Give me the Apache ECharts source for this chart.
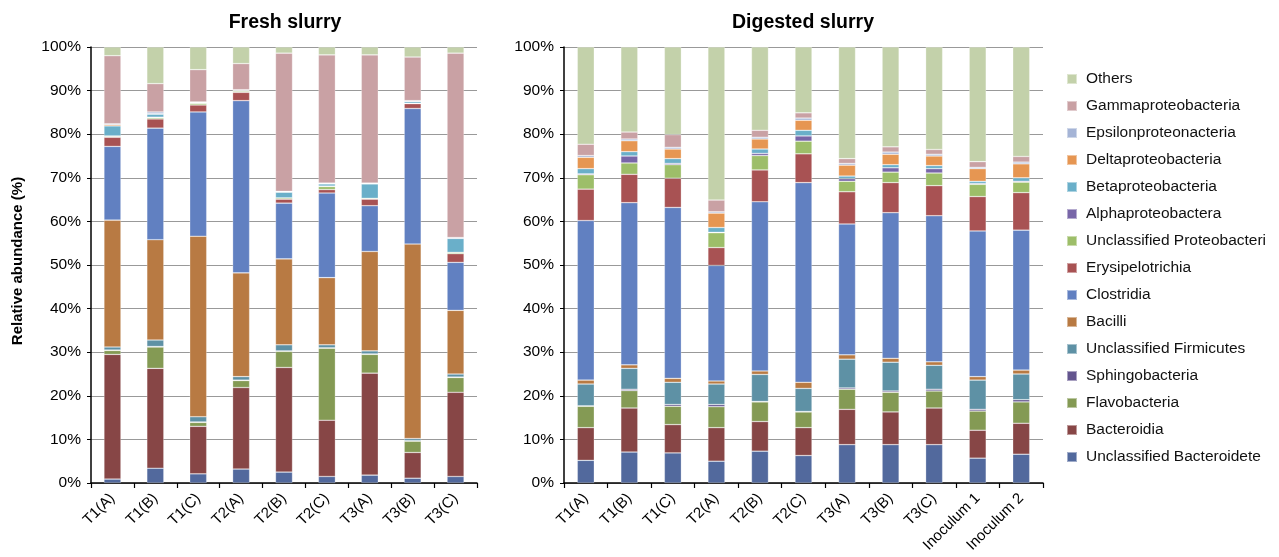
<!DOCTYPE html>
<html>
<head>
<meta charset="utf-8">
<script src="https://cdn.jsdelivr.net/npm/echarts@6/dist/echarts.min.js"></script>
<style>
  html, body { margin: 0; padding: 0; background: #fff; }
  #chart { width: 1279px; height: 557px; }
</style>
</head>
<body>
<div id="chart"></div>
<script>
// Sample names
const freshSamples = ['T1(A)', 'T1(B)', 'T1(C)', 'T2(A)', 'T2(B)', 'T2(C)', 'T3(A)', 'T3(B)', 'T3(C)'];
const digestedSamples = ['T1(A)', 'T1(B)', 'T1(C)', 'T2(A)', 'T2(B)', 'T2(C)', 'T3(A)', 'T3(B)', 'T3(C)', 'Inoculum 1', 'Inoculum 2'];

// Taxa, bottom of the stack first
const taxa = ['Unclassified Bacteroidete', 'Bacteroidia', 'Flavobacteria', 'Sphingobacteria',
  'Unclassified Firmicutes', 'Bacilli', 'Clostridia', 'Erysipelotrichia', 'Unclassified Proteobacteri',
  'Alphaproteobactera', 'Betaproteobacteria', 'Deltaproteobacteria', 'Epsilonproteonacteria',
  'Gammaproteobacteria', 'Others'];

// Fresh slurry, relative abundance (%)
const freshUnclBacteroidete = [0.9, 3.4, 2.1, 3.2, 2.5, 1.5, 1.8, 1.1, 1.5];
const freshBacteroidia      = [28.6, 22.9, 10.9, 18.7, 24.0, 12.9, 23.4, 5.9, 19.3];
const freshFlavobacteria    = [0.9, 4.9, 0.9, 1.6, 3.7, 16.5, 4.3, 2.6, 3.4];
const freshSphingobacteria  = [0.1, 0.1, 0.1, 0.1, 0.1, 0.1, 0.1, 0.1, 0.1];
const freshUnclFirmicutes   = [0.7, 1.5, 1.2, 0.8, 1.4, 0.7, 0.7, 0.5, 0.7];
const freshBacilli          = [29.1, 23.0, 41.4, 23.8, 19.7, 15.4, 22.8, 44.6, 14.6];
const freshClostridia       = [16.9, 25.6, 28.5, 39.5, 12.8, 19.4, 10.5, 31.1, 11.0];
const freshErysipelotrichia = [2.1, 2.1, 1.6, 1.9, 0.9, 0.8, 1.5, 1.1, 2.0];
const freshUnclProteo       = [0.2, 0.3, 0.4, 0.3, 0.3, 0.7, 0.2, 0.1, 0.3];
const freshAlpha            = [0.1, 0.1, 0.0, 0.0, 0.0, 0.1, 0.0, 0.0, 0.0];
const freshBeta             = [2.3, 0.7, 0.1, 0.1, 1.3, 0.5, 3.3, 0.4, 3.2];
const freshDelta            = [0.3, 0.1, 0.1, 0.1, 0.1, 0.1, 0.1, 0.1, 0.1];
const freshEpsilon          = [0.2, 0.4, 0.1, 0.1, 0.1, 0.1, 0.1, 0.1, 0.1];
const freshGamma            = [15.6, 6.5, 7.4, 6.0, 31.7, 29.4, 29.4, 10.0, 42.3];
const freshOthers           = [2.0, 8.4, 5.2, 3.8, 1.4, 1.8, 1.8, 2.3, 1.4];

// Digested slurry, relative abundance (%)
const digUnclBacteroidete = [5.2, 7.1, 6.9, 5.0, 7.3, 6.3, 8.8, 8.8, 8.8, 5.7, 6.6];
const digBacteroidia      = [7.5, 10.1, 6.5, 7.7, 6.8, 6.4, 8.1, 7.5, 8.4, 6.4, 7.1];
const digFlavobacteria    = [4.9, 4.0, 4.2, 4.8, 4.5, 3.6, 4.6, 4.5, 3.9, 4.4, 4.9];
const digSphingobacteria  = [0.1, 0.3, 0.4, 0.5, 0.1, 0.1, 0.3, 0.3, 0.4, 0.4, 0.5];
const digUnclFirmicutes   = [5.0, 4.8, 5.1, 4.7, 6.2, 5.3, 6.6, 6.6, 5.5, 6.7, 5.9];
const digBacilli          = [0.9, 0.8, 0.9, 0.7, 0.8, 1.4, 1.0, 0.9, 0.8, 0.8, 0.9];
const digClostridia       = [36.6, 37.2, 39.2, 26.5, 38.8, 45.8, 30.0, 33.4, 33.5, 33.4, 32.1];
const digErysipelotrichia = [7.2, 6.5, 6.7, 4.1, 7.3, 6.6, 7.4, 6.9, 6.9, 7.9, 8.6];
const digUnclProteo       = [3.3, 2.6, 3.1, 3.4, 3.3, 2.9, 2.4, 2.4, 2.9, 2.8, 2.4];
const digAlpha            = [0.2, 1.6, 0.3, 0.1, 0.5, 1.2, 0.6, 1.0, 1.0, 0.2, 0.2];
const digBeta             = [1.2, 1.0, 1.1, 1.1, 1.0, 1.3, 0.6, 0.7, 0.7, 0.5, 0.8];
const digDelta            = [2.6, 2.5, 2.2, 3.3, 2.3, 2.3, 2.5, 2.4, 2.2, 2.9, 3.2];
const digEpsilon          = [0.4, 0.4, 0.4, 0.3, 0.4, 0.5, 0.4, 0.5, 0.4, 0.3, 0.4];
const digGamma            = [2.6, 1.6, 2.9, 2.7, 1.6, 1.2, 1.1, 1.2, 1.1, 1.3, 1.3];
const digOthers           = [22.3, 19.5, 20.1, 35.1, 19.1, 15.1, 25.6, 22.9, 23.5, 26.3, 25.1];

// Y-axis ticks
const yTicks = [0, 10, 20, 30, 40, 50, 60, 70, 80, 90, 100];

const freshSeries = [freshUnclBacteroidete, freshBacteroidia, freshFlavobacteria, freshSphingobacteria,
  freshUnclFirmicutes, freshBacilli, freshClostridia, freshErysipelotrichia, freshUnclProteo,
  freshAlpha, freshBeta, freshDelta, freshEpsilon, freshGamma, freshOthers];
const digSeries = [digUnclBacteroidete, digBacteroidia, digFlavobacteria, digSphingobacteria,
  digUnclFirmicutes, digBacilli, digClostridia, digErysipelotrichia, digUnclProteo,
  digAlpha, digBeta, digDelta, digEpsilon, digGamma, digOthers];

const colors = ['#52699d', '#874646', '#849a54', '#63558e', '#5e91a5', '#b87a43', '#6180c1',
  '#a85253', '#9dbe69', '#7866a8', '#6aafc9', '#e69652', '#a5b4d6', '#c9a1a4', '#c3d1aa'];

const FONT = 'Liberation Sans, Arial, Helvetica, sans-serif';

function xAxisFor(gridIndex, cats) {
  return {
    type: 'category', gridIndex: gridIndex, data: cats,
    axisLine: { lineStyle: { color: '#000', width: 1.5 } },
    axisTick: { show: true, length: 5, lineStyle: { color: '#000', width: 1.2 } },
    axisLabel: { interval: 0, rotate: 45, fontSize: 15, color: '#000', fontFamily: FONT, margin: 13 }
  };
}
function yAxisFor(gridIndex) {
  return {
    type: 'value', gridIndex: gridIndex, min: yTicks[0], max: yTicks[yTicks.length - 1], interval: yTicks[1] - yTicks[0],
    axisLine: { show: true, lineStyle: { color: '#000', width: 1.5 } },
    axisTick: { show: true, length: 4, lineStyle: { color: '#000' } },
    axisLabel: { formatter: '{value}%', fontSize: 15.5, color: '#000', fontFamily: FONT, margin: 10 },
    splitLine: { show: true, lineStyle: { color: '#999', width: 1.2 } }
  };
}

const series = [];
taxa.forEach(function (name, i) {
  series.push({
    name: name, type: 'bar', stack: 'fresh', xAxisIndex: 0, yAxisIndex: 0,
    barWidth: 17, data: freshSeries[i],
    itemStyle: { color: colors[i], borderColor: 'rgba(255,255,255,0.45)', borderWidth: 0.6 }
  });
  series.push({
    name: name, type: 'bar', stack: 'dig', xAxisIndex: 1, yAxisIndex: 1,
    barWidth: 17, data: digSeries[i],
    itemStyle: { color: colors[i], borderColor: 'rgba(255,255,255,0.45)', borderWidth: 0.6 }
  });
});

const chart = echarts.init(document.getElementById('chart'), null, { renderer: 'canvas' });
chart.setOption({
  animation: false,
  backgroundColor: '#fff',
  textStyle: { fontFamily: FONT },
  title: [
    { text: 'Fresh slurry', left: 280, top: 8, textAlign: 'center',
      textStyle: { fontSize: 19.5, fontWeight: 'bold', color: '#000', fontFamily: FONT } },
    { text: 'Digested slurry', left: 798, top: 8, textAlign: 'center',
      textStyle: { fontSize: 19.5, fontWeight: 'bold', color: '#000', fontFamily: FONT } }
  ],
  grid: [
    { left: 91, right: 802, top: 47, bottom: 74 },
    { left: 564, right: 236, top: 47, bottom: 74 }
  ],
  xAxis: [xAxisFor(0, freshSamples), xAxisFor(1, digestedSamples)],
  yAxis: [yAxisFor(0), yAxisFor(1)],
  legend: {
    orient: 'vertical', left: 1061, top: 66,
    data: taxa.slice().reverse(),
    icon: 'rect', itemWidth: 10, itemHeight: 10, itemGap: 11.0,
    textStyle: { fontSize: 15.5, color: '#111', fontFamily: FONT, lineHeight: 14.5, padding: [0, 0, 0, 4] }
  },
  graphic: [{
    type: 'text', x: 18, y: 261, rotation: Math.PI / 2,
    style: { text: 'Relative abundance (%)', fontSize: 15, fontWeight: 'bold', fill: '#000',
      fontFamily: FONT, align: 'center', verticalAlign: 'middle' }
  }],
  series: series
});
</script>
</body>
</html>
